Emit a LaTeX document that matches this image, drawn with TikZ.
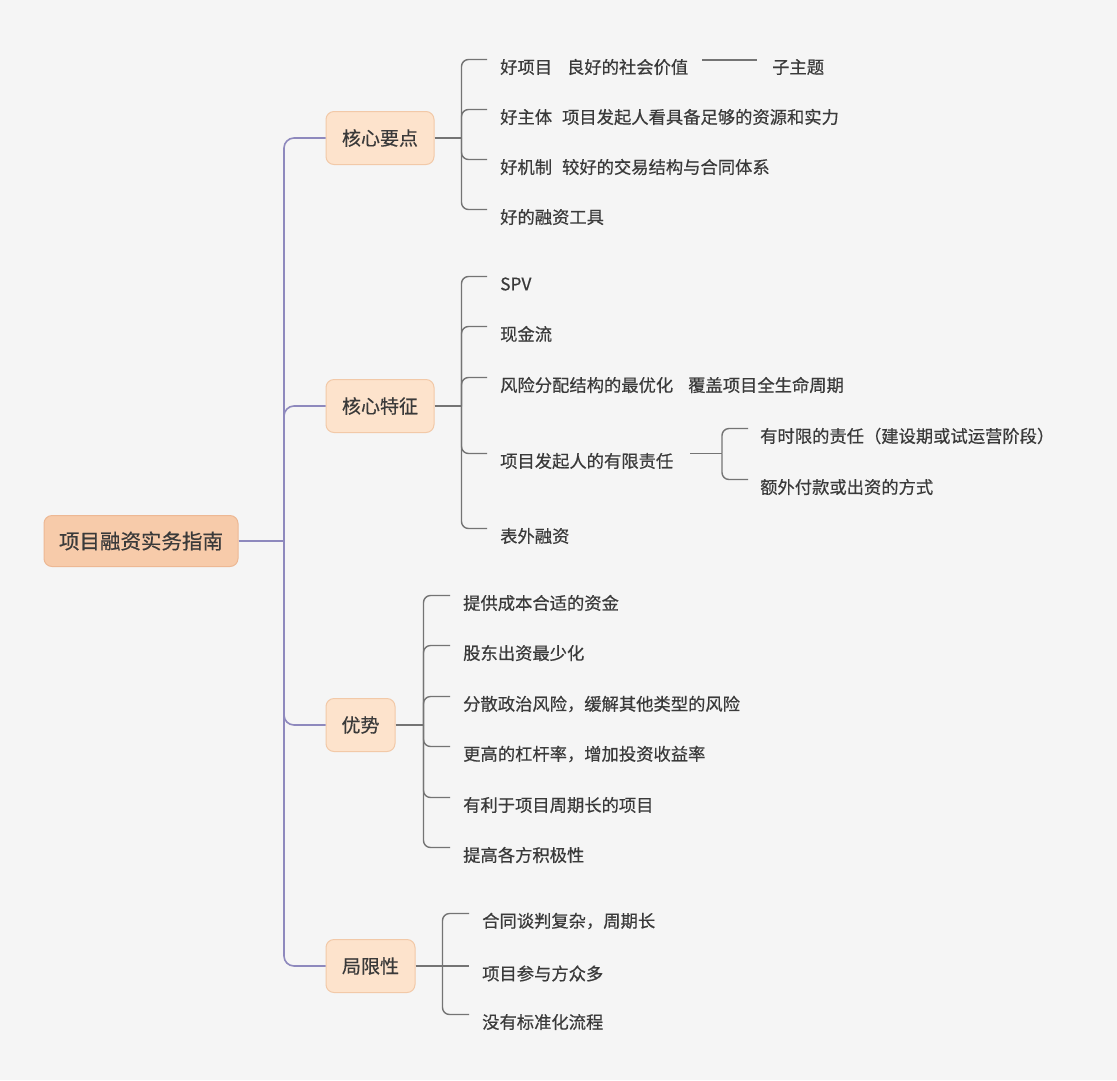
\documentclass[tikz,border=0pt]{standalone}
\usepackage{fontspec}
\setmainfont{Noto Sans CJK SC}[RawFeature={embolden=0.5}]
\usetikzlibrary{calc}
\definecolor{bg}{HTML}{F5F5F5}
\definecolor{rootfill}{HTML}{F7CBAA}
\definecolor{rootborder}{HTML}{EDB894}
\definecolor{mainfill}{HTML}{FDE3CC}
\definecolor{mainborder}{HTML}{F2C9A8}
\definecolor{txt}{HTML}{3A3A3A}
\definecolor{trunkcol}{HTML}{8E89BD}
\definecolor{branchcol}{HTML}{747474}
\begin{document}
\begin{tikzpicture}[x=1pt,y=-1pt,
  rootbox/.style={draw=rootborder, fill=rootfill, rounded corners=8pt, line width=1pt,
    minimum width=194pt, minimum height=51pt, inner sep=0pt,
    font=\fontsize{20.5}{24}\selectfont, text=txt},
  mainbox/.style={draw=mainborder, fill=mainfill, rounded corners=8pt, line width=1pt,
    minimum height=53pt, inner sep=0pt, font=\fontsize{19}{22}\selectfont, text=txt},
  leaf/.style={anchor=west, inner sep=0pt, font=\fontsize{17.3}{20}\selectfont, text=txt},
  trunk/.style={draw=trunkcol, line width=1.6pt, rounded corners=10pt},
  branch/.style={draw=branchcol, line width=1.4pt, rounded corners=7pt},
]
\useasboundingbox[fill=bg] (0,0) rectangle (1117,1080);

% root and main topics
\node[rootbox] (R) at (141,541) {项目融资实务指南};
\node[mainbox, minimum width=108pt] (K1) at (380,138) {核心要点};
\node[mainbox, minimum width=108pt] (K2) at (380,406) {核心特征};
\node[mainbox, minimum width=69pt] (K3) at (360.5,725) {优势};
\node[mainbox, minimum width=89pt] (K4) at (370.5,966) {局限性};

% trunk
\coordinate (T) at (284,541);
\draw[trunk] (R.east) -- (T);
\foreach \k in {K1,K2,K3,K4} \draw[trunk] (T) |- (\k.west);

% K1 children
\node[leaf] (a1) at (500,67) {好项目\hspace{15pt}良好的社会价值};
\node[leaf] (a2) at (500,117) {好主体\hspace{10pt}项目发起人看具备足够的资源和实力};
\node[leaf] (a3) at (500,167) {好机制\hspace{10pt}较好的交易结构与合同体系};
\node[leaf] (a4) at (500,217) {好的融资工具};
\node[leaf] (a5) at (772,67) {子主题};
\draw[branch] ([xshift=14pt,yshift=7pt]a1.east) -- ([xshift=-15pt,yshift=7pt]a5.west);

\coordinate (J1) at ([xshift=27pt]K1.east);
\draw[branch] (K1.east) -- (J1);
\foreach \c in {a1,a2,a3,a4} \draw[branch] (J1) |- ([xshift=-13pt,yshift=7.5pt]\c.west);

% K2 children
\node[leaf] (b1) at (500,284) {SPV};
\node[leaf] (b2) at (500,334) {现金流};
\node[leaf] (b3) at (500,385) {风险分配结构的最优化\hspace{15pt}覆盖项目全生命周期};
\node[leaf] (b4) at (500,461) {项目发起人的有限责任};
\node[leaf] (b5) at (500,536) {表外融资};

\coordinate (J2) at ([xshift=27pt]K2.east);
\draw[branch] (K2.east) -- (J2);
\foreach \c in {b1,b2,b3,b4,b5} \draw[branch] (J2) |- ([xshift=-13pt,yshift=7.5pt]\c.west);

% b4 sub-children
\node[leaf] (d1) at (760,436) {有时限的责任（建设期或试运营阶段）};
\node[leaf] (d2) at (760,487) {额外付款或出资的方式};
\coordinate (Jd) at (722,453.5);
\draw[branch] ([xshift=17pt,yshift=7.5pt]b4.east) -- (Jd);
\foreach \c in {d1,d2} \draw[branch] (Jd) |- ([xshift=-12pt,yshift=7.5pt]\c.west);

% K3 children
\node[leaf] (e1) at (463,603) {提供成本合适的资金};
\node[leaf] (e2) at (463,653) {股东出资最少化};
\node[leaf] (e3) at (463,704) {分散政治风险，缓解其他类型的风险};
\node[leaf] (e4) at (463,754) {更高的杠杆率，增加投资收益率};
\node[leaf] (e5) at (463,805) {有利于项目周期长的项目};
\node[leaf] (e6) at (463,855) {提高各方积极性};

\coordinate (J3) at ([xshift=28pt]K3.east);
\draw[branch] (K3.east) -- (J3);
\foreach \c in {e1,e2,e3,e4,e5,e6} \draw[branch] (J3) |- ([xshift=-13pt,yshift=7.5pt]\c.west);

% K4 children
\node[leaf] (f1) at (482,921) {合同谈判复杂，周期长};
\node[leaf] (f2) at (482,973.5) {项目参与方众多};
\node[leaf] (f3) at (482,1022) {没有标准化流程};

\coordinate (J4) at ([xshift=27pt]K4.east);
\draw[branch] (K4.east) -- (J4);
\draw[branch] (J4) |- ([xshift=-13pt,yshift=7.5pt]f1.west);
\draw[branch] (J4) -- ([xshift=-13pt,yshift=7.5pt]f2.west);
\draw[branch] (J4) |- ([xshift=-13pt,yshift=7.5pt]f3.west);
\end{tikzpicture}
\end{document}
